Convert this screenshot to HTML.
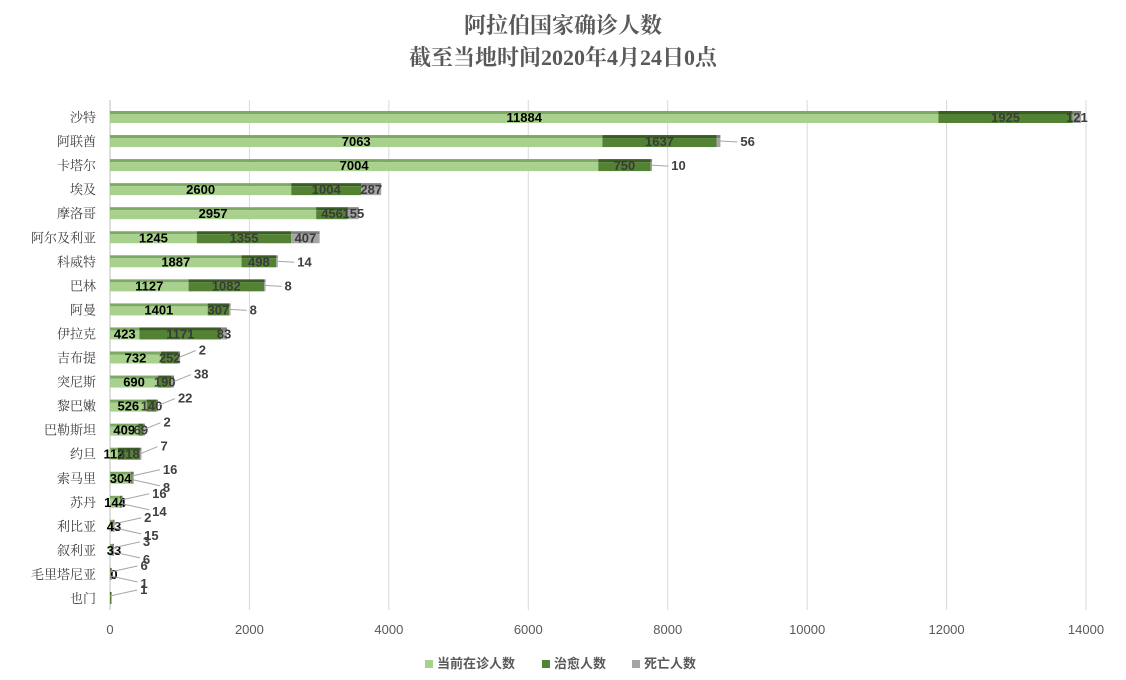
<!DOCTYPE html>
<html><head><meta charset="utf-8">
<style>
body{margin:0;background:#fff;}
svg{display:block;font-family:"Liberation Sans","Noto Sans CJK SC",sans-serif;}
</style></head>
<body>
<svg id="chart" width="1126" height="680" viewBox="0 0 1126 680">
<text x="563" y="33" text-anchor="middle" font-size="22" font-weight="bold" fill="#595959" font-family="'Liberation Serif','Noto Serif CJK SC',serif">阿拉伯国家确诊人数</text>
<text x="563" y="65" text-anchor="middle" font-size="22" font-weight="bold" fill="#595959" font-family="'Liberation Serif','Noto Serif CJK SC',serif">截至当地时间2020年4月24日0点</text>
<g id="grid"></g><g id="bars"></g><g id="labels"></g>
<g font-size="13" font-weight="bold" fill="#595959">
<rect x="425" y="660" width="8" height="8" fill="#a9d18e"/><text x="437" y="668">当前在诊人数</text>
<rect x="542" y="660" width="8" height="8" fill="#548235"/><text x="554" y="668">治愈人数</text>
<rect x="632" y="660" width="8" height="8" fill="#a5a5a5"/><text x="644" y="668">死亡人数</text>
</g>
</svg>
<script>
const countries=["沙特","阿联酋","卡塔尔","埃及","摩洛哥","阿尔及利亚","科威特","巴林","阿曼","伊拉克","吉布提","突尼斯","黎巴嫩","巴勒斯坦","约旦","索马里","苏丹","利比亚","叙利亚","毛里塔尼亚","也门"];
const current=[11884,7063,7004,2600,2957,1245,1887,1127,1401,423,732,690,526,409,112,304,144,43,33,0,0];
const recovered=[1925,1637,750,1004,456,1355,498,1082,307,1171,252,190,140,69,318,16,16,2,3,6,1];
const deaths=[121,56,10,287,155,407,14,8,8,83,2,38,22,2,7,8,14,15,6,1,0];
const ticks=[0,2000,4000,6000,8000,10000,12000,14000];
const NS="http://www.w3.org/2000/svg";
const x0=110,x1=1086,maxV=14000;
const X=v=>x0+(x1-x0)*v/maxV;
const Y=i=>117+i*24.05;
function mk(t,a,p){const e=document.createElementNS(NS,t);for(const k in a)e.setAttribute(k,a[k]);p.appendChild(e);return e;}
const grid=document.getElementById('grid'),bars=document.getElementById('bars'),labels=document.getElementById('labels');
ticks.forEach(t=>{
 const l=mk('line',{x1:X(t),x2:X(t),y1:100,y2:610,stroke:'#d9d9d9','stroke-width':1},grid);
 
 
 const tx=mk('text',{x:X(t),y:634,'text-anchor':'middle','font-size':13,fill:'#595959'},grid);
 tx.textContent=t;
 
 
});
mk('line',{x1:x0,x2:x0,y1:100,y2:610,stroke:'#bfbfbf'},grid);
const cols=[["#a9d18e","#7fa864"],["#548235","#3b5d25"],["#a5a5a5","#7f7f7f"]];
function lab(x,y,txt,name,anchor,fill){
 const t=mk('text',{x:x,y:y,'text-anchor':anchor||'start','font-size':13,'font-weight':'bold',fill:fill||'#404040'},labels);
 t.textContent=txt;
 
 
 return t;
}
countries.forEach((c,i)=>{
 const y=Y(i);
 const cl=mk('text',{x:96,y:y+5,'text-anchor':'end','font-size':13,fill:'#404040','font-family':"'Noto Serif CJK SC',serif"},labels);
 cl.textContent=c;
 
 
 const vals=[current[i],recovered[i],deaths[i]];
 let s=0;
 vals.forEach((v,k)=>{
  const xa=X(s),xb=X(s+v);s+=v;
  if(v<=0)return;
  const w=Math.max(xb-xa,1.5);
  const top=mk('rect',{x:xa,y:y-6,width:w,height:3,fill:cols[k][1]},bars);
  
  
  const r=mk('rect',{x:xa,y:y-3,width:w,height:9,fill:cols[k][0]},bars);
  
  
 });
 const end=X(s);
 const xc=X(current[i]), xr=X(current[i]+recovered[i]);
 const cw=xc-x0;
 if(cw>30) lab(x0+cw/2,y+5,current[i],'label-current','middle','#000');
 else if(i<20) lab(x0+Math.max(cw,8)/2,y+5,current[i],'label-current','middle','#000');
 const rw=xr-xc;
 if(rw>4 || i<15){
  lab(xc+rw/2,y+5,recovered[i],'label-recovered','middle','#3a3a3a');
  if(deaths[i]>=80){
   lab((xr+end)/2,y+5,deaths[i],'label-deaths','middle','#3a3a3a');
  }else{
   const dy=i<=8?5:-3;
   mk('line',{x1:end,y1:y,x2:end+17,y2:y+dy-4,stroke:'#a5a5a5'},labels);
   lab(end+20,y+dy,deaths[i],'label-deaths');
  }
 }else{
  mk('line',{x1:end,y1:y-2,x2:end+27,y2:y-8,stroke:'#a5a5a5'},labels);
  lab(end+30,y-4,recovered[i],'label-recovered');
  if(deaths[i]>0){
   mk('line',{x1:end,y1:y+2,x2:end+27,y2:y+8,stroke:'#a5a5a5'},labels);
   lab(end+30,y+14,deaths[i],'label-deaths');
  }
 }
});
</script>
</body></html>
